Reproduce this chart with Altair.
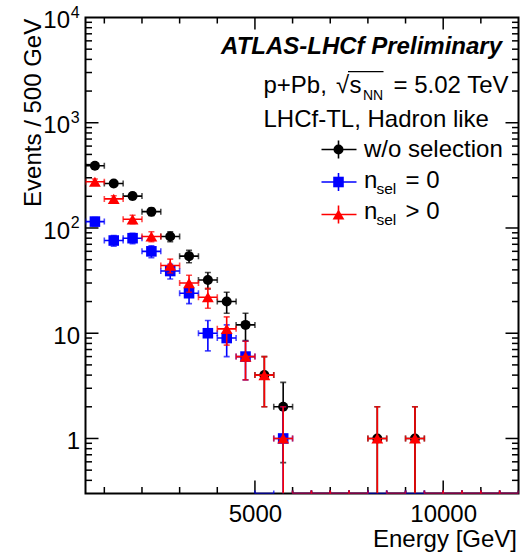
import altair as alt
import pandas as pd

# ---------------- data ----------------
bin_centers = [750, 1250, 1750, 2250, 2750, 3250, 3750, 4250, 4750, 5250, 5750, 6250,
               6750, 7250, 7750, 8250, 8750, 9250, 9750, 10250, 10750, 11250, 11750]
bin_half_width = 250

counts_all = [390, 265, 201, 143, 83, 54, 32, 20, 12, 4, 2, 0, 0, 0, 0, 1, 0, 1, 0, 0, 0, 0, 0]
err_all = [19.7, 16.3, 14.2, 12.0, 9.1, 7.3, 5.7, 4.5, 3.5, 2.0, 1.41, 0, 0, 0, 0, 1.0, 0, 1.0, 0, 0, 0, 0, 0]

counts_n0 = [115, 76, 80, 60, 39, 24, 10, 9, 6, 0, 1, 0, 0, 0, 0, 0, 0, 0, 0, 0, 0, 0, 0]
err_n0 = [10.7, 8.7, 8.9, 7.7, 6.2, 4.9, 3.2, 3.0, 2.4, 0, 1.0, 0, 0, 0, 0, 0, 0, 0, 0, 0, 0, 0, 0]

counts_ngt0 = [275, 189, 121, 83, 44, 30, 22, 11, 6, 4, 1, 0, 0, 0, 0, 1, 0, 1, 0, 0, 0, 0, 0]
err_ngt0 = [16.6, 13.7, 11.0, 9.1, 6.6, 5.5, 4.7, 3.3, 2.4, 2.0, 1.0, 0, 0, 0, 0, 1.0, 0, 1.0, 0, 0, 0, 0, 0]

series_counts = [counts_all, counts_n0, counts_ngt0]
series_errs = [err_all, err_n0, err_ngt0]
series_colors = ["#000000", "#0000ff", "#ff0000"]
series_shapes = ["circle", "square", "triangle-up"]
series_sizes = [100, 112, 140]

x_major_ticks = [5000, 10000]
x_minor_ticks = [1000, 2000, 3000, 4000, 6000, 7000, 8000, 9000, 11000]
y_major_ticks = [1, 10, 100, 1000]
y_minor_ticks = [0.4, 0.5, 0.6, 0.7, 0.8, 0.9,
                 2, 3, 4, 5, 6, 7, 8, 9,
                 20, 30, 40, 50, 60, 70, 80, 90,
                 200, 300, 400, 500, 600, 700, 800, 900,
                 2000, 3000, 4000, 5000, 6000, 7000, 8000, 9000]
y_plain_label_values = [1, 10]
y_plain_label_texts = ["1", "10"]
y_pow_label_values = [100, 1000, 10000]
y_pow_label_exps = ["2", "3", "4"]
x_label_values = [5000, 10000]

X_DOMAIN = [500, 12000]
Y_DOMAIN = [0.3, 10000]
Y_MIN = Y_DOMAIN[0]

# ---------------- layout ----------------
W, H = 433, 476
FONT = "Liberation Sans"
LW = 1.6

xs = alt.Scale(domain=X_DOMAIN, nice=False, zero=False)
ys = alt.Scale(type="log", domain=Y_DOMAIN, nice=False)

x_axis = alt.Axis(values=x_label_values, format="d", title="Energy [GeV]",
                  labelFontSize=24, labelFont=FONT, labelColor="black", labelPadding=8.5,
                  labelFlush=False, labelOverlap=False,
                  ticks=False, domain=False, grid=False,
                  titleFontSize=24, titleFont=FONT, titleFontWeight="normal", titleColor="black",
                  titleX=431, titleY=52.5, titleAlign="right", titleBaseline="alphabetic")
y_axis = alt.Axis(title="Events / 500 GeV", labels=False, ticks=False, domain=False, grid=False,
                  titleFontSize=24, titleFont=FONT, titleFontWeight="normal", titleColor="black",
                  titleX=-45.5, titleY=0.8, titleAngle=270, titleAlign="right",
                  titleBaseline="alphabetic")


def X(field):
    return alt.X(field, type="quantitative", scale=xs, axis=x_axis)


def Y(field):
    return alt.Y(field, type="quantitative", scale=ys, axis=y_axis)


one = pd.DataFrame({"k": [0]})
layers = []

# ---- ticks (inward, on all four sides) ----
xmaj = pd.DataFrame({"v": x_major_ticks})
xmin = pd.DataFrame({"v": x_minor_ticks})
ymaj = pd.DataFrame({"v": y_major_ticks})
ymin = pd.DataFrame({"v": y_minor_ticks})
tick_style = dict(color="black", strokeWidth=1.5)
layers += [
    alt.Chart(xmaj).mark_rule(**tick_style).encode(x=X("v"), y=alt.value(H), y2=alt.value(H - 13)),
    alt.Chart(xmin).mark_rule(**tick_style).encode(x=X("v"), y=alt.value(H), y2=alt.value(H - 6.5)),
    alt.Chart(xmaj).mark_rule(**tick_style).encode(x=X("v"), y=alt.value(0), y2=alt.value(12)),
    alt.Chart(xmin).mark_rule(**tick_style).encode(x=X("v"), y=alt.value(0), y2=alt.value(6)),
    alt.Chart(ymaj).mark_rule(**tick_style).encode(y=Y("v"), x=alt.value(0), x2=alt.value(13)),
    alt.Chart(ymin).mark_rule(**tick_style).encode(y=Y("v"), x=alt.value(0), x2=alt.value(6.5)),
    alt.Chart(ymaj).mark_rule(**tick_style).encode(y=Y("v"), x=alt.value(W), x2=alt.value(W - 13)),
    alt.Chart(ymin).mark_rule(**tick_style).encode(y=Y("v"), x=alt.value(W), x2=alt.value(W - 6.5)),
]

# ---- y tick labels (10 with superscripts) ----
plain = pd.DataFrame({"v": y_plain_label_values, "t": y_plain_label_texts})
powl = pd.DataFrame({"v": y_pow_label_values, "e": y_pow_label_exps})
layers += [
    alt.Chart(plain).mark_text(align="right", baseline="alphabetic", dy=10.7, fontSize=24,
                               font=FONT, color="black").encode(
        y=Y("v"), x=alt.value(-5.5), text="t:N"),
    alt.Chart(powl).mark_text(align="right", baseline="alphabetic", dy=10.7, fontSize=24,
                              font=FONT, color="black", text="10").encode(
        y=Y("v"), x=alt.value(-15.5)),
    alt.Chart(powl).mark_text(align="left", baseline="alphabetic", dy=0, fontSize=16,
                              font=FONT, color="black").encode(
        y=Y("v"), x=alt.value(-14.8), text="e:N"),
]

# ---- histograms with error bars ----
for counts, errs, color, shape, size in zip(series_counts, series_errs, series_colors,
                                             series_shapes, series_sizes):
    rows = []
    for xc, c, e in zip(bin_centers, counts, errs):
        rows.append({"x": xc, "c": c, "e": e,
                     "yc": max(c, Y_MIN),
                     "lo": max(c - e, Y_MIN), "hi": c + e,
                     "xlo": xc - bin_half_width, "xhi": xc + bin_half_width})
    df = pd.DataFrame(rows)
    nz = df[(df.c > 0) & (df.e > 0)]
    lowcap = nz[nz.c - nz.e > Y_MIN]
    edges = pd.concat([df[["xlo", "yc"]].rename(columns={"xlo": "xe"}),
                       df[["xhi", "yc"]].rename(columns={"xhi": "xe"})])
    pts = df[df.c > 0]
    layers += [
        alt.Chart(df).mark_rule(color=color, strokeWidth=LW, clip=True).encode(
            x=X("xlo"), x2="xhi", y=Y("yc")),
        alt.Chart(nz).mark_rule(color=color, strokeWidth=LW, clip=True).encode(
            x=X("x"), y=Y("lo"), y2="hi"),
        alt.Chart(nz).mark_tick(color=color, orient="horizontal", size=6, thickness=LW,
                                clip=True).encode(x=X("x"), y=Y("hi")),
        alt.Chart(lowcap).mark_tick(color=color, orient="horizontal", size=6, thickness=LW,
                                    clip=True).encode(x=X("x"), y=Y("lo")),
        alt.Chart(edges).mark_tick(color=color, orient="vertical", size=6, thickness=LW,
                                   clip=True).encode(x=X("xe"), y=Y("yc")),
        alt.Chart(pts).mark_point(filled=True, shape=shape, size=size, color=color,
                                  opacity=1, strokeWidth=0).encode(x=X("x"), y=Y("c")),
    ]

# ---- text annotations ----
def txt(s, x, y, size=24, align="left", weight="normal", style="normal"):
    return alt.Chart(one).mark_text(text=s, align=align, baseline="alphabetic", fontSize=size,
                                    font=FONT, fontWeight=weight, fontStyle=style,
                                    color="black").encode(x=alt.value(x), y=alt.value(y))

OX, OY = 85.5, 17.5  # page position of the plot origin
layers += [
    txt("ATLAS-LHCf Preliminary", 502 - OX, 54 - OY, align="right", weight="bold", style="italic"),
    txt("p+Pb,", 263.5 - OX, 93 - OY),
    txt("√", 336 - OX, 93 - OY),
    txt("s", 349.5 - OX, 93 - OY),
    txt("NN", 363 - OX, 100 - OY, size=14),
    txt("= 5.02 TeV", 508.5 - OX, 93 - OY, align="right"),
    alt.Chart(one).mark_rule(color="black", strokeWidth=1.2).encode(
        x=alt.value(348 - OX), x2=alt.value(383.5 - OX), y=alt.value(71.7 - OY)),
    txt("LHCf-TL, Hadron like", 263.5 - OX, 126.7 - OY),
]

legend_labels = [("w/o selection", None, None), ("n", "sel", "= 0"), ("n", "sel", "> 0")]
legend_baselines = [156.7, 187.5, 219]
legend_marker_y = [149.5, 182, 214.5]
for (main, sub, rest), base, my, color, shape, size in zip(
        legend_labels, legend_baselines, legend_marker_y,
        series_colors, series_shapes, series_sizes):
    layers += [
        alt.Chart(one).mark_rule(color=color, strokeWidth=LW).encode(
            x=alt.value(321.5 - OX), x2=alt.value(356.5 - OX), y=alt.value(my - OY)),
        alt.Chart(one).mark_rule(color=color, strokeWidth=LW).encode(
            x=alt.value(338.5 - OX), y=alt.value(my - 9 - OY), y2=alt.value(my + 9 - OY)),
        alt.Chart(one).mark_point(filled=True, shape=shape, size=size, color=color,
                                  opacity=1, strokeWidth=0).encode(
            x=alt.value(338.5 - OX), y=alt.value(my - OY)),
        txt(main, 364 - OX, base - OY),
    ]
    if sub:
        layers += [txt(sub, 376.5 - OX, base + 6 - OY, size=15.5),
                   txt(rest, 405.5 - OX, base - OY)]

chart = alt.layer(*layers).properties(
    width=W, height=H,
    autosize=alt.AutoSizeParams(type="none"),
    padding={"left": OX, "top": OY, "right": 527 - OX - W, "bottom": 553 - OY - H},
    background="white",
).configure_view(stroke="black", strokeWidth=2)

chart.save("out.html", embed_options={"renderer": "svg", "actions": False})
